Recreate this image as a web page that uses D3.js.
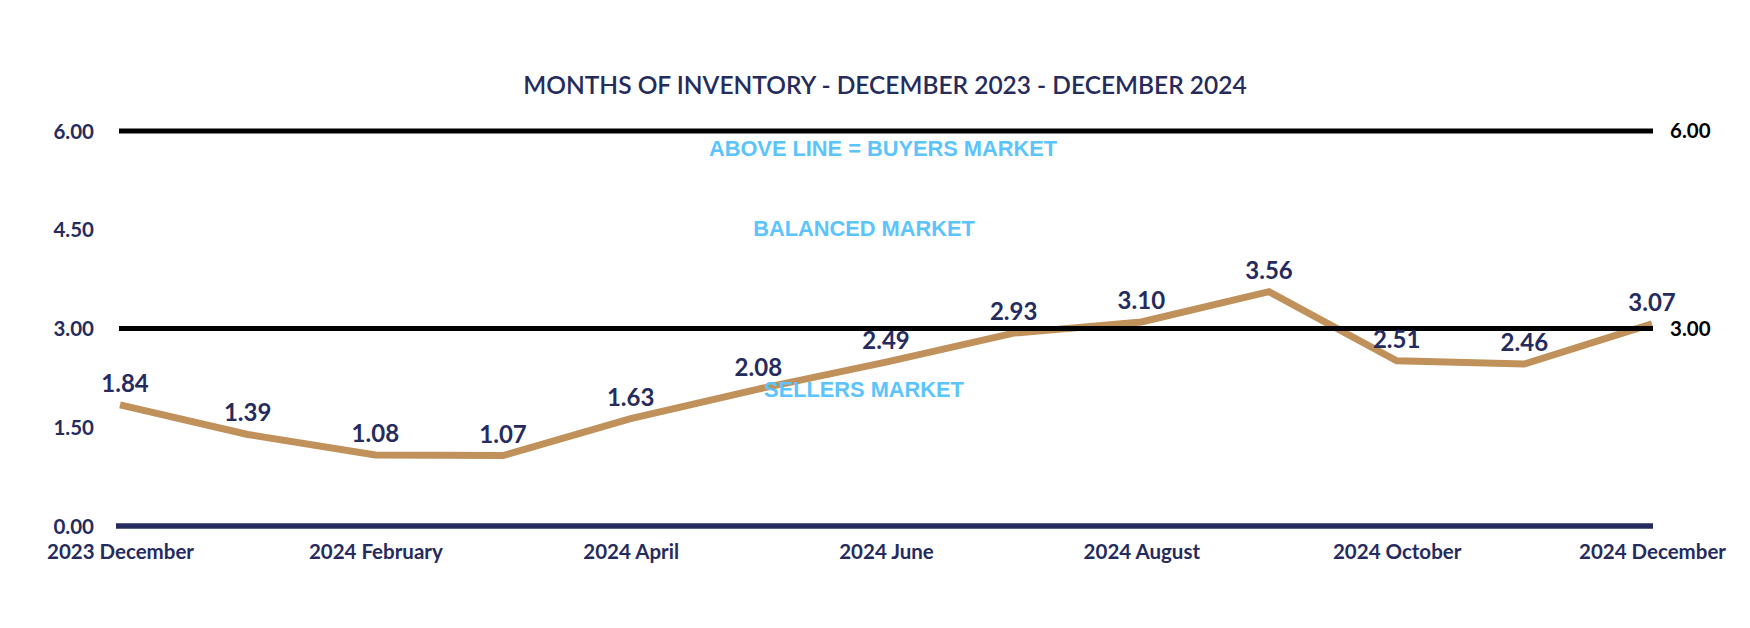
<!DOCTYPE html>
<html>
<head>
<meta charset="utf-8">
<script src="https://cdn.jsdelivr.net/npm/d3@7/dist/d3.min.js"></script>
<style>
  html, body { margin: 0; padding: 0; background: #fff; }
  svg { display: block; }
</style>
</head>
<body>
<svg id="chart" width="1750" height="628"></svg>
<script>
const months = ["2023 December","2024 January","2024 February","2024 March","2024 April","2024 May","2024 June","2024 July","2024 August","2024 September","2024 October","2024 November","2024 December"];
const inventory = [1.84,1.39,1.08,1.07,1.63,2.08,2.49,2.93,3.10,3.56,2.51,2.46,3.07];
const xTickLabels = ["2023 December","2024 February","2024 April","2024 June","2024 August","2024 October","2024 December"];
const yTicks = [0,1.5,3,4.5,6];
const refLines = [6,3];
const title = "MONTHS OF INVENTORY - DECEMBER 2023 - DECEMBER 2024";
const zoneLabels = [
  {text:"ABOVE LINE = BUYERS MARKET", value:5.62},
  {text:"BALANCED MARKET", value:4.4},
  {text:"SELLERS MARKET", value:1.96}
];

const navy = "#262B5E", tan = "#C0915A", sky = "#5BC4FC";
const svg = d3.select("#chart");
const x = d3.scalePoint().domain(months).range([120, 1652]);
const y = d3.scaleLinear().domain([0,6]).range([526,131]);

// title
svg.append("text").attr("x", 885).attr("y", 94).attr("text-anchor","middle")
  .attr("font-family","Lato").attr("font-weight",600).attr("font-size",24.5)
  .attr("fill",navy).text(title);

// left y axis labels
const yAxis = d3.axisLeft(y).tickValues(yTicks).tickFormat(d3.format(".2f")).tickSize(0).tickPadding(0);
const gy = svg.append("g").attr("transform","translate(94,0)").call(yAxis);
gy.select(".domain").remove();
gy.selectAll("text").attr("font-family","Lato").attr("font-weight",700).attr("font-size",20.5)
  .attr("fill",navy).attr("dy","0.35em");

// x axis labels
const xAxis = d3.axisBottom(x).tickValues(xTickLabels).tickSize(0).tickPadding(0);
const gx = svg.append("g").attr("transform","translate(0,544)").call(xAxis);
gx.select(".domain").remove();
gx.selectAll("text").attr("font-family","Lato").attr("font-weight",700).attr("font-size",20.5)
  .attr("fill",navy).attr("dy","0.75em");

// data line
const line = d3.line().x((d,i)=>x(months[i])).y(d=>y(d));
svg.append("path").datum(inventory).attr("d",line).attr("fill","none")
  .attr("stroke",tan).attr("stroke-width",7).attr("stroke-linejoin","miter");

// baseline axis
svg.append("line").attr("x1",x(months[0])-4).attr("x2",x(months[months.length-1])+1)
  .attr("y1",y(0)).attr("y2",y(0)).attr("stroke",navy).attr("stroke-width",5.5);

// reference lines
svg.selectAll(".ref").data(refLines).enter().append("line")
  .attr("x1",x(months[0])-1).attr("x2",x(months[months.length-1])+1)
  .attr("y1",d=>y(d)).attr("y2",d=>y(d)).attr("stroke","#000").attr("stroke-width",5);
svg.selectAll(".refLabel").data(refLines).enter().append("text")
  .attr("x",1670).attr("y",d=>y(d)).attr("dy","0.35em")
  .attr("font-family","Lato").attr("font-weight",700).attr("font-size",20.5)
  .attr("fill","#000").text(d=>d3.format(".2f")(d));

// data labels
svg.selectAll(".dl").data(inventory).enter().append("text")
  .attr("x",(d,i)=>x(months[i]) + (i===0?5:0)).attr("y",d=>y(d)-13)
  .attr("text-anchor","middle").attr("font-family","Lato").attr("font-weight",700)
  .attr("font-size",24).attr("fill",navy).text(d=>d3.format(".2f")(d));

// zone labels
svg.selectAll(".zone").data(zoneLabels).enter().append("text")
  .attr("x",(d,i)=>i===0?883:864).attr("y",d=>y(d.value)).attr("text-anchor","middle")
  .attr("font-family","Liberation Sans, Arial").attr("font-weight",700).attr("font-size",21.8)
  .attr("fill",sky).text(d=>d.text);
</script>
</body>
</html>
